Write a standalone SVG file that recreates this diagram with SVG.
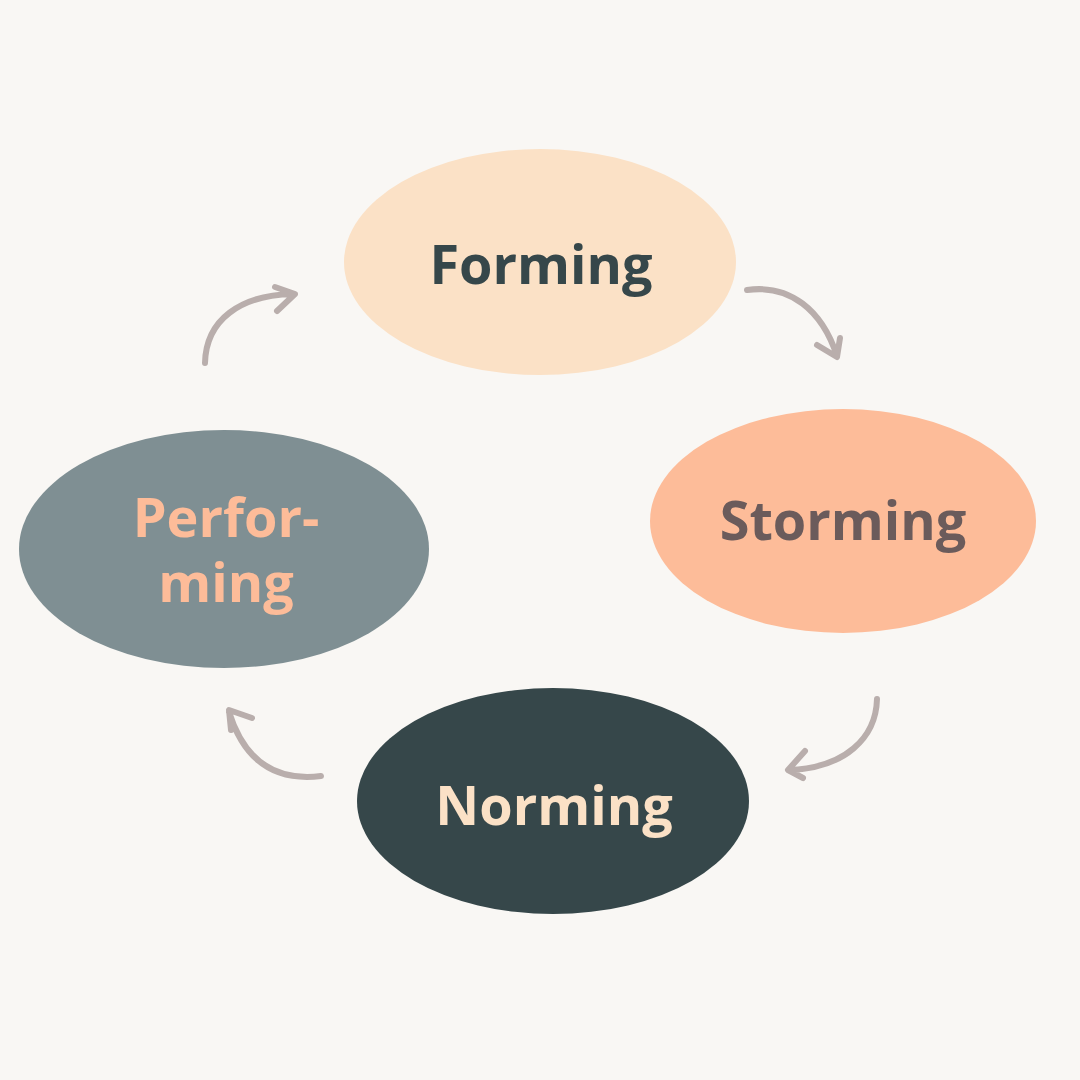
<svg xmlns="http://www.w3.org/2000/svg" width="1080" height="1080" viewBox="0 0 1080 1080">
<style>
.lbl{font-family:"Open Sans","DejaVu Sans",sans-serif;font-weight:700;font-size:54px;text-anchor:middle}
.arr{fill:none;stroke:#B9AEAC;stroke-width:6;stroke-linecap:round;stroke-linejoin:round}
</style>
<rect width="1080" height="1080" fill="#F9F7F4"/>
<g id="forming">
<ellipse cx="540" cy="262" rx="196" ry="113" fill="#FBE1C6"/>
<text class="lbl" x="541" y="284" fill="#36474A">Forming</text>
</g>
<g id="storming">
<ellipse cx="843" cy="521" rx="193" ry="112" fill="#FDBC99"/>
<text class="lbl" x="843" y="540" fill="#6B5B5B">Storming</text>
</g>
<g id="norming">
<ellipse cx="553" cy="801" rx="196" ry="113" fill="#36474A"/>
<text class="lbl" x="554" y="825" fill="#FBE1C6">Norming</text>
</g>
<g id="performing">
<ellipse cx="224" cy="549" rx="205" ry="119" fill="#7F8F93"/>
<text class="lbl" x="226" y="537" fill="#FDBC99">Perfor-</text>
<text class="lbl" x="226" y="602" fill="#FDBC99">ming</text>
</g>
<g id="connectors">
<path class="arr" d="M747,290 C790,284 822,310 837,356 M817,345 L837,357 L840,338"/>
<path class="arr" d="M877,699 C876,738 845,768 789,770 M805,751 L788,770 L803,778"/>
<path class="arr" d="M321,776 C272,782 243,757 229,712 M252,718 L229,710 L231,730"/>
<path class="arr" d="M205,363 C206,320 240,295 293,294 M275,287 L295,294 L277,311"/>
</g>
</svg>
